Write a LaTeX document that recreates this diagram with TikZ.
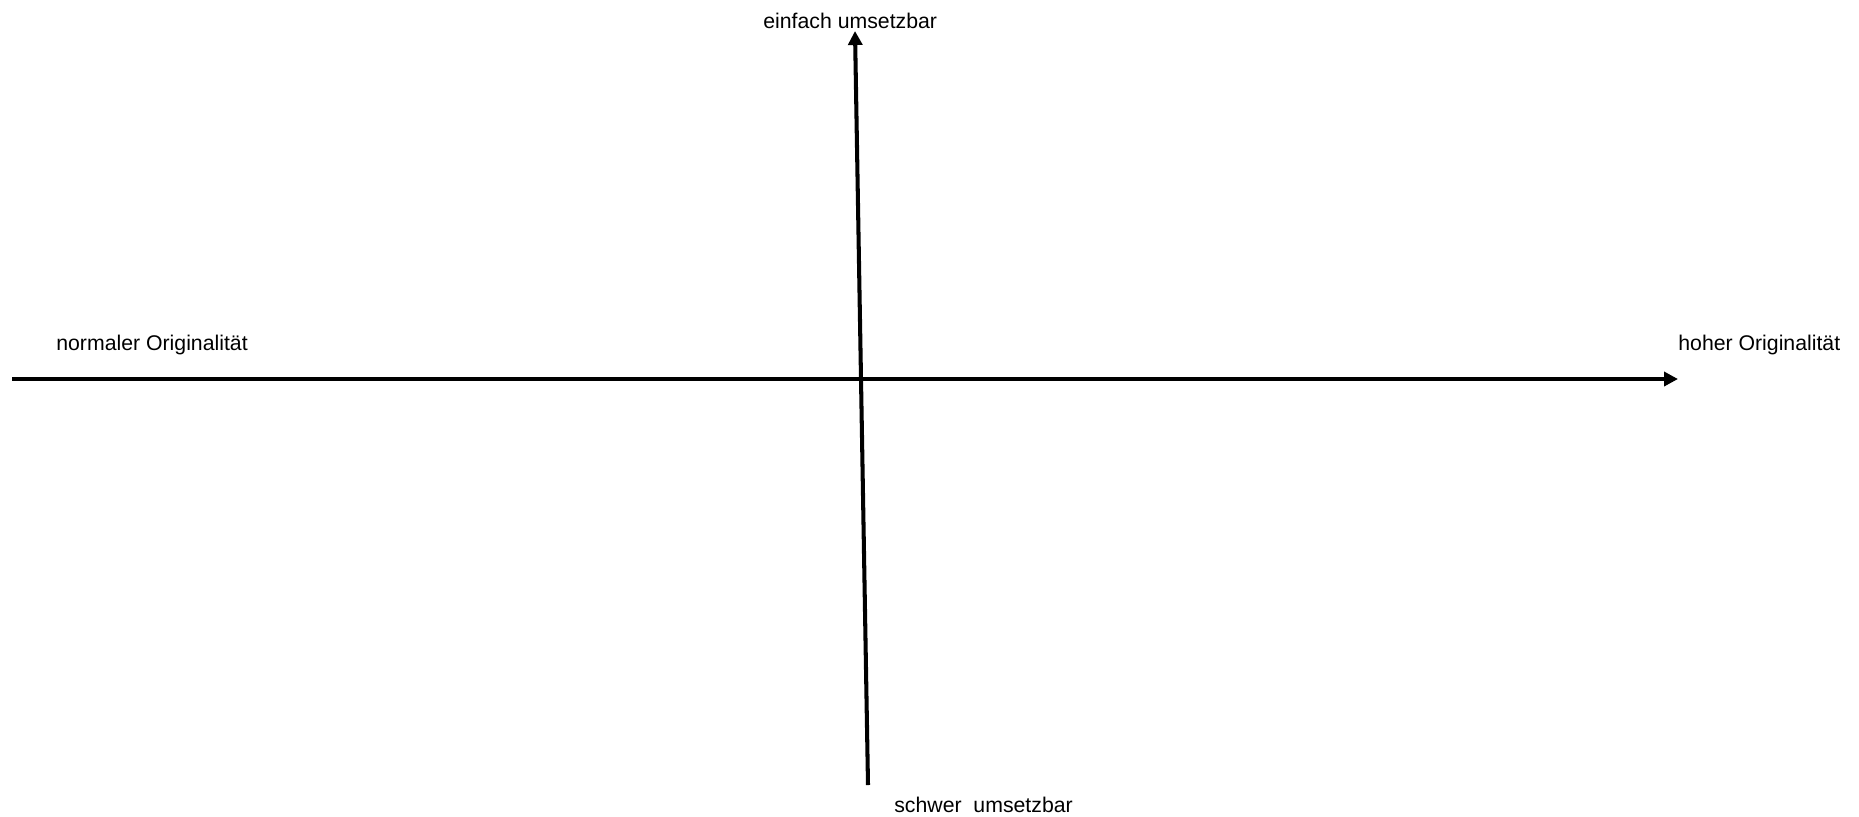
\documentclass[tikz,border=0pt]{standalone}
\usepackage{fontspec}
\setmainfont{Liberation Sans}
\usetikzlibrary{arrows.meta}
\begin{document}
\begin{tikzpicture}[x=0.02cm,y=-0.02cm,
  axis/.style={line width=2.3pt,-{Triangle[length=0.28cm,width=0.28cm]}},
  lbl/.style={inner sep=0pt,anchor=base west,font=\fontsize{12.1pt}{14pt}\selectfont}]
\useasboundingbox (0,0) rectangle (1859,816);
\coordinate (xl) at (12,379);
\coordinate (xr) at (1678,379);
\coordinate (yb) at (868,785);
\coordinate (yt) at (855,31);
\draw[axis] (xl) -- (xr);
\draw[axis] (yb) -- (yt);
\node[lbl] (top) at (763,28.5) {einfach umsetzbar};
\node[lbl] (left) at (56,350) {normaler Originalität};
\node[lbl] (right) at (1678,350) {hoher Originalität};
\node[lbl] (bottom) at (894,812.5) {schwer\ \ umsetzbar};
\end{tikzpicture}
\end{document}
